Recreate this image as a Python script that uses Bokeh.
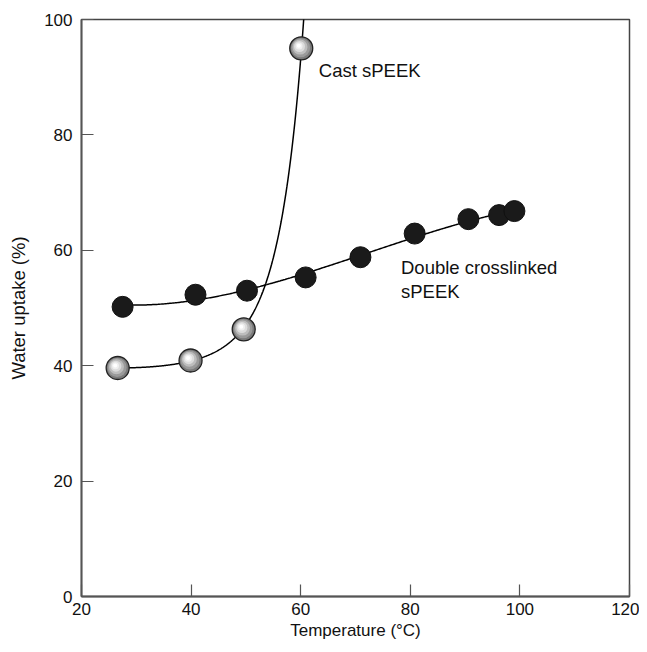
import numpy as np
from bokeh.plotting import figure
from bokeh.models import Range1d, ColumnDataSource, Label, FixedTicker
from bokeh.transform import dodge
from bokeh.embed import file_html
from bokeh.resources import INLINE

# ---- data ----
cast_temp = [26.6, 39.9, 49.6, 60.1]
cast_uptake = [39.6, 40.9, 46.3, 95.0]

dbl_temp = [27.5, 40.8, 50.2, 60.9, 70.9, 80.8, 90.6, 96.2, 99.0]
dbl_uptake = [50.2, 52.3, 53.0, 55.3, 58.8, 62.9, 65.4, 66.1, 66.8]

x_ticks = [20, 40, 60, 80, 100, 120]
y_ticks = [0, 20, 40, 60, 80, 100]

FONT = "Liberation Sans"
AX = "#555555"

p = figure(width=639, height=644, output_backend="svg", toolbar_location=None,
           x_range=Range1d(20, 120), y_range=Range1d(0, 100),
           min_border_left=81, min_border_right=10, min_border_top=19, min_border_bottom=48)
p.grid.visible = False
p.outline_line_color = "#444444"
p.outline_line_width = 1.5
p.background_fill_color = "white"
p.border_fill_color = "white"

for ax in (p.xaxis[0], p.yaxis[0]):
    ax.axis_line_color = AX
    ax.axis_line_width = 1.8
    ax.major_tick_in = 12
    ax.major_tick_out = 0
    ax.major_tick_line_color = AX
    ax.major_tick_line_width = 1.2
    ax.minor_tick_line_color = None
    ax.major_label_text_font = FONT
    ax.major_label_text_font_size = "17px"
    ax.major_label_text_color = "#111111"
    ax.axis_label_text_font = FONT
    ax.axis_label_text_font_style = "normal"
    ax.axis_label_text_color = "#111111"

p.xaxis.axis_label_text_font_size = "17px"
p.yaxis.axis_label_text_font_size = "18.5px"
p.xaxis.ticker = FixedTicker(ticks=x_ticks)
p.yaxis.ticker = FixedTicker(ticks=y_ticks)
p.xaxis.axis_label = "Temperature (°C)"
p.yaxis.axis_label = "Water uptake (%)"
p.xaxis.major_label_standoff = 6
p.xaxis.axis_label_standoff = 3
p.yaxis.major_label_standoff = 9
p.yaxis.axis_label_standoff = 12

# ---- smooth curves fitted from the data ----
cx = np.array(cast_temp)
cy = np.array(cast_uptake)
coef = np.polyfit(cx, np.log(cy - 38.0), 2)
xs_c = np.linspace(cx[0], 61.5, 400)
ys_c = 38.0 + np.exp(np.polyval(coef, xs_c))
keep = ys_c <= 102
p.line(xs_c[keep], ys_c[keep], line_color="black", line_width=1.5)

dx = np.array(dbl_temp)
dy = np.array(dbl_uptake)
coef2 = np.polyfit(dx, dy, 3)
xs_d = np.linspace(dx[0], dx[-1], 300)
p.line(xs_d, np.polyval(coef2, xs_d), line_color="black", line_width=1.5)

# ---- markers ----
p.scatter(dbl_temp, dbl_uptake, size=21, fill_color="#1a1a1a", line_color="#111111")

src = ColumnDataSource(data=dict(x=cast_temp, y=cast_uptake))
p.scatter("x", "y", source=src, size=23, fill_color="#7a7a7a",
          line_color="#222222", line_width=1.3)
shades = [(19, "#9a9a9a", 0.10), (15, "#bdbdbd", 0.22), (11, "#dcdcdc", 0.32),
          (7, "#f0f0f0", 0.40), (4, "#ffffff", 0.45)]
for sz, col, off in shades:
    p.scatter(x=dodge("x", -off, range=p.x_range), y=dodge("y", off, range=p.y_range),
              source=src, size=sz, fill_color=col, line_color=None)

# ---- annotations ----
for tx, ty, tt in [(63.3, 91.2, "Cast sPEEK"),
                   (78.3, 57.0, "Double crosslinked"),
                   (78.3, 52.8, "sPEEK")]:
    p.add_layout(Label(x=tx, y=ty, text=tt, text_font=FONT, text_font_size="18.5px",
                       text_baseline="middle", text_color="#111111"))

open("out.html", "w").write(file_html(p, INLINE))
